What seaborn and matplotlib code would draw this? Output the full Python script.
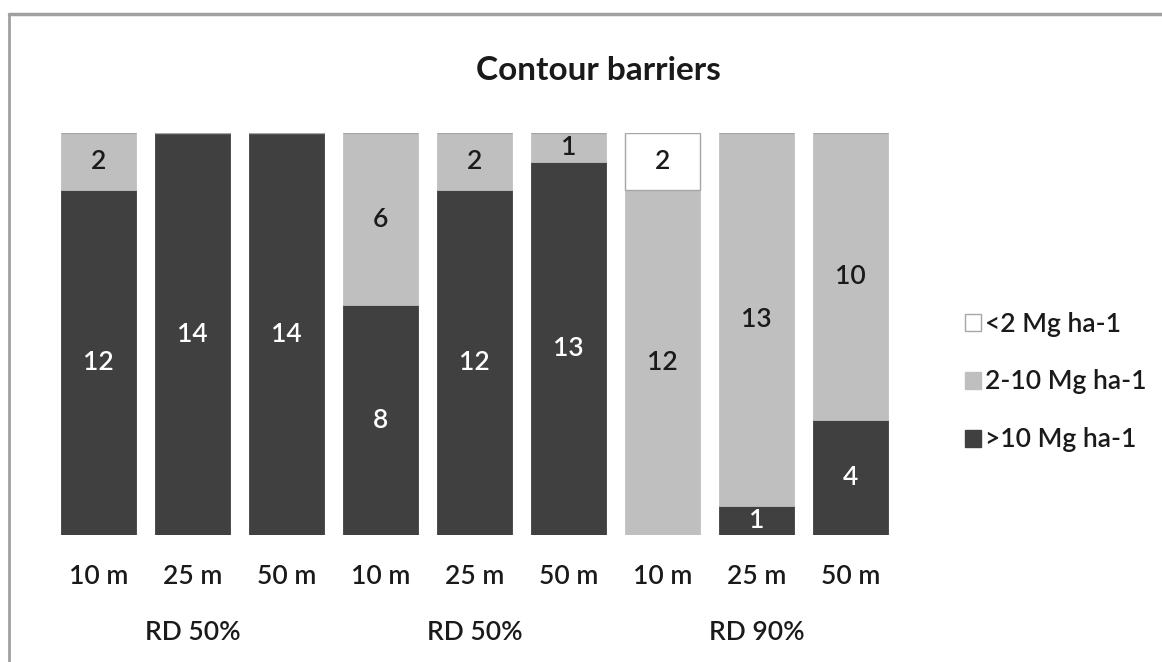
import numpy as np
import pandas as pd
import matplotlib
matplotlib.use("Agg")
import matplotlib.pyplot as plt
from matplotlib.patches import Patch
from matplotlib.lines import Line2D
import seaborn as sns

# Bar categories (distance) and their grouping (retention degree)
distances = ["10 m", "25 m", "50 m", "10 m", "25 m", "50 m", "10 m", "25 m", "50 m"]
groups = ["RD 50%", "RD 50%", "RD 90%"]

# Number of cases per soil-loss class for each bar
above_10 = [12, 14, 14, 8, 12, 13, 0, 1, 4]
between_2_10 = [2, 0, 0, 6, 2, 1, 12, 13, 10]
below_2 = [0, 0, 0, 0, 0, 0, 2, 0, 0]

sns.set_theme(style="white")
plt.rcParams["font.family"] = ["Lato", "DejaVu Sans"]

FS = 19
TXT = "#1a1a1a"

fig = plt.figure(figsize=(11.62, 6.62), dpi=100)
ax = fig.add_axes([51.5 / 1162, 1 - 535 / 662, 846 / 1162, 402 / 662])

pos = np.arange(len(distances))
df = pd.DataFrame({"pos": pos, "above": above_10, "mid": between_2_10, "low": below_2})
df["mid_base"] = df["above"]
df["low_base"] = df["above"] + df["mid"]

dark, light = "#404040", "#bfbfbf"
sns.barplot(data=df, x="pos", y="above", native_scale=True, width=0.8,
            color=dark, saturation=1, edgecolor=dark, linewidth=0.6, ax=ax)
sns.barplot(data=df, x="pos", y="mid", bottom=df["mid_base"], native_scale=True,
            width=0.8, color=light, saturation=1, edgecolor=light, linewidth=0.6, ax=ax)
sns.barplot(data=df, x="pos", y="low", bottom=df["low_base"], native_scale=True,
            width=0.8, color="white", saturation=1, edgecolor="#a6a6a6", linewidth=1.0, ax=ax)

# Value labels centred in each segment
lab_kw = dict(ha="center", va="center", fontsize=FS, fontweight="semibold")
for i in range(len(pos)):
    if above_10[i] > 0:
        ax.text(pos[i], above_10[i] / 2, str(above_10[i]), color="white", **lab_kw)
    if between_2_10[i] > 0:
        ax.text(pos[i], above_10[i] + between_2_10[i] / 2, str(between_2_10[i]),
                color=TXT, **lab_kw)
    if below_2[i] > 0:
        ax.text(pos[i], above_10[i] + between_2_10[i] + below_2[i] / 2, str(below_2[i]),
                color=TXT, **lab_kw)

ax.set_xlim(-0.5, len(pos) - 0.5)
ax.set_ylim(0, 14)
ax.set_xticks(pos)
ax.set_xticklabels(distances, fontsize=FS, color=TXT, fontweight="semibold")
ax.tick_params(axis="x", length=0, pad=21)
ax.set_yticks([])
ax.set_xlabel("")
ax.set_ylabel("")
for s in ax.spines.values():
    s.set_visible(False)

# Group labels under each triple of bars
for g, name in enumerate(groups):
    fig.text((98.5 + 94 * (3 * g + 1)) / 1162, 1 - 632 / 662, name,
             ha="center", va="center", fontsize=FS, color=TXT, fontweight="semibold")

fig.text(598 / 1162, 1 - 70 / 662, "Contour barriers", ha="center", va="center",
         fontsize=24, fontweight="bold", color=TXT)

handles = [Patch(facecolor="white", edgecolor="#a6a6a6", linewidth=1.0),
           Patch(facecolor=light, edgecolor=light),
           Patch(facecolor=dark, edgecolor=dark)]
leg = fig.legend(handles, ["<2 Mg ha-1", "2-10 Mg ha-1", ">10 Mg ha-1"],
                 loc="center left", bbox_to_anchor=(952 / 1162, 1 - 382 / 662),
                 frameon=False, fontsize=FS, handlelength=0.6, handleheight=0.6,
                 handletextpad=0.15, labelspacing=1.25, borderpad=0,
                 prop={"size": FS, "weight": "semibold"})
for t in leg.get_texts():
    t.set_color(TXT)

# Frame edges of the chart area
fig.add_artist(Line2D([9 / 1162, 1], [1 - 14 / 662] * 2, color="#a0a0a0", lw=2.5))
fig.add_artist(Line2D([9 / 1162] * 2, [0, 1 - 14 / 662], color="#a0a0a0", lw=2))

fig.savefig("out.png", dpi=100, facecolor="white")
